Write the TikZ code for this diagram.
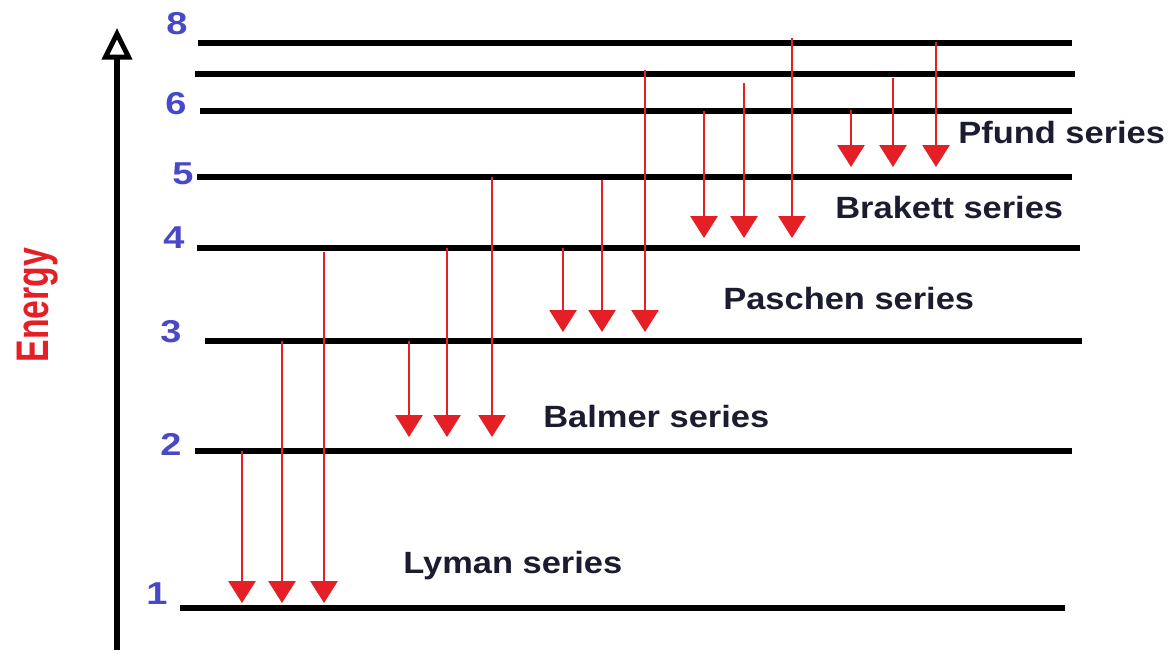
\documentclass[tikz,border=0pt]{standalone}
\usepackage{fontspec}
\setmainfont{Liberation Sans}
\usetikzlibrary{arrows.meta}
\definecolor{jumpred}{RGB}{228,32,38}
\definecolor{levelblue}{RGB}{72,72,200}
\definecolor{serieink}{RGB}{28,28,48}
\tikzset{
	level/.style={line width=2.9pt},
	jump/.style={jumpred, line width=1.1pt, -{Triangle[width=15.5pt, length=12.5pt]}},
	levelnum/.style={text=levelblue, font=\bfseries\fontsize{18}{20}\selectfont, inner sep=0pt},
	serie/.style={text=serieink, font=\bfseries\fontsize{17.5}{20}\selectfont, anchor=base west, inner sep=0pt}
}
\begin{document}
\begin{tikzpicture}[x=0.02cm, y=-0.02cm, line join=round]
	\useasboundingbox (0,0) rectangle (1173,653);
	
	% energy levels
	\foreach \n/\y/\a/\b in {1/608/180/1065, 2/451/195/1072, 3/341/205/1082, 4/248/197/1080, 5/177/197/1072, 6/111/200/1072, 7/74/195/1075, 8/43/198/1072} {
		\draw[level] (\a,\y) -- (\b,\y);
	}
	
	% level numbers
	\node[levelnum] (n1) at (157,594) {\scalebox{1.2}[1]{1}};
	\node[levelnum] (n2) at (171,444) {\scalebox{1.2}[1]{2}};
	\node[levelnum] (n3) at (171,332) {\scalebox{1.2}[1]{3}};
	\node[levelnum] (n4) at (174,238) {\scalebox{1.2}[1]{4}};
	\node[levelnum] (n5) at (183,174) {\scalebox{1.2}[1]{5}};
	\node[levelnum] (n6) at (176,104) {\scalebox{1.2}[1]{6}};
	\node[levelnum] (n8) at (177,24) {\scalebox{1.2}[1]{8}};
	
	% energy axis
	\draw[line width=3.6pt, -{Triangle[open, width=17pt, length=18pt, line width=2.8pt]}] (117,650) -- (117,28);
	\node[rotate=90, text=jumpred, font=\bfseries\fontsize{26}{28}\selectfont] (energy) at (38,305) {\scalebox{0.74}[1]{Energy}};
	
	% transitions: x / from / tip
	\foreach \x/\f/\t in {242/451/603, 282/341/603, 324/252/603,
		409/341/437, 447/248/437, 492/177/437,
		563/248/332, 602/180/332, 645/70/332,
		704/111/238, 744/83/238, 792/38/238,
		851/110/167, 893/78/167, 936/42/167} {
		\draw[jump] (\x,\f) -- (\x,\t);
	}
	
	% series names
	\node[serie] (lyman) at (403,573) {\scalebox{1.12}[1]{Lyman series}};
	\node[serie] (balmer) at (543,427) {\scalebox{1.12}[1]{Balmer series}};
	\node[serie] (paschen) at (723,309) {\scalebox{1.12}[1]{Paschen series}};
	\node[serie] (brakett) at (835,218) {\scalebox{1.12}[1]{Brakett series}};
	\node[serie] (pfund) at (958,143) {\scalebox{1.12}[1]{Pfund series}};
\end{tikzpicture}
\end{document}
